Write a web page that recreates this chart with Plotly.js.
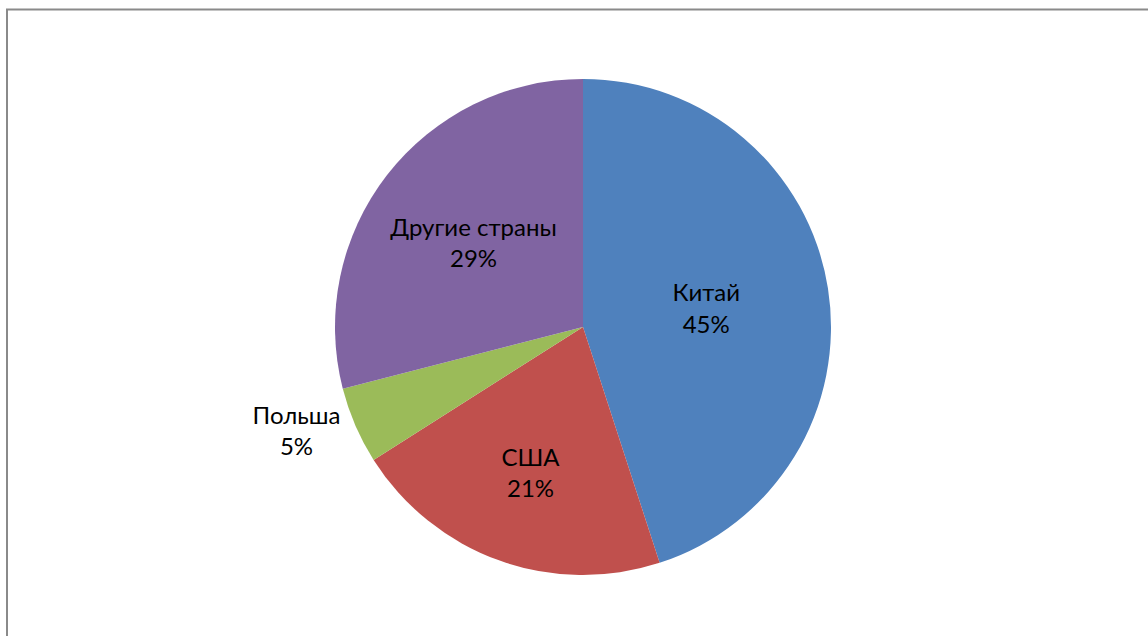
<!DOCTYPE html>
<html><head><meta charset="utf-8">
<script src="https://cdn.plot.ly/plotly-3.0.1.min.js"></script>
<style>html,body{margin:0;padding:0;background:#fff}#c{width:1148px;height:636px}</style>
</head><body><div id="c"></div>
<script>
const labels = ["Китай", "США", "Польша", "Другие страны"];
const values = [45, 21, 5, 29];
const colors = ["#4F81BD", "#C0504D", "#9BBB59", "#8064A2"];
const positions = ["inside", "inside", "outside", "inside"];

const W = 1148, H = 636;
const FONT = "Lato, Open Sans, Liberation Sans, sans-serif";
const trace = {
  type: "pie",
  labels: labels,
  values: values,
  sort: false,
  direction: "clockwise",
  rotation: 0,
  marker: {colors: colors, line: {width: 0}},
  textposition: positions,
  texttemplate: "%{label}<br>%{percent:.0%}",
  insidetextorientation: "horizontal",
  textfont: {family: FONT, size: 24, color: "#000"},
  insidetextfont: {family: FONT, size: 24, color: "#000"},
  outsidetextfont: {family: FONT, size: 24, color: "#000"},
  automargin: false,
  hoverinfo: "label+percent",
  domain: {x: [335 / W, 831 / W], y: [(H - 575) / H, (H - 79) / H]}
};
const layout = {
  width: W, height: H,
  margin: {l: 0, r: 0, t: 0, b: 0},
  paper_bgcolor: "#fff",
  showlegend: false,
  font: {family: FONT, color: "#000"},
  shapes: [{
    type: "rect", xref: "paper", yref: "paper",
    x0: 7 / W, x1: 1.01, y0: -0.01, y1: (H - 9.5) / H,
    line: {color: "#8a8a8a", width: 2}
  }]
};
Plotly.newPlot("c", [trace], layout, {displayModeBar: false, staticPlot: true});
</script></body></html>
